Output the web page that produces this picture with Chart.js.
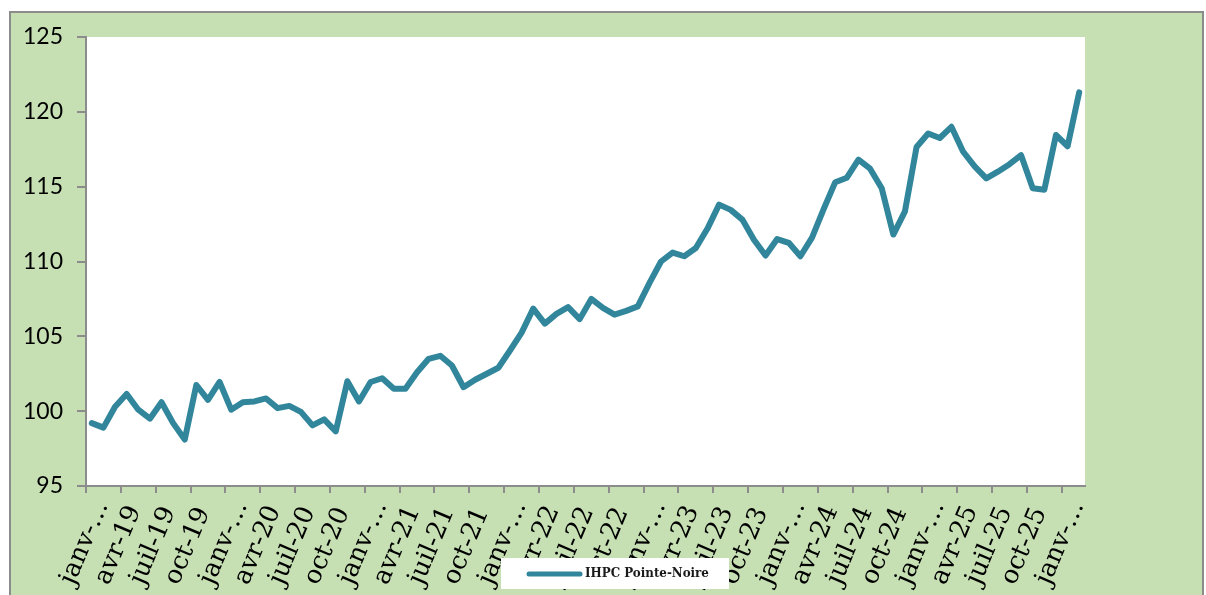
<!DOCTYPE html>
<html>
<head>
<meta charset="utf-8">
<script src="https://cdn.jsdelivr.net/npm/chart.js@4/dist/chart.umd.min.js"></script>
<style>
  html, body { margin: 0; padding: 0; background: #ffffff; overflow: hidden; }
  #frame { position: absolute; left: 9px; top: 11px; width: 1195px; height: 600px;
           background: #c6e0b4; border: 2px solid #8c8c8c; box-sizing: border-box; }
  #wrap { position: absolute; left: 0; top: 0; width: 1206px; height: 595px; }
</style>
</head>
<body>
<div id="frame"></div>
<div id="wrap"><canvas id="c" width="1206" height="595"></canvas></div>
<script>
// ---- data ----
const monthNames = ["janv","févr","mars","avr","mai","juin","juil","août","sept","oct","nov","déc"];
const years = ["19","20","21","22","23","24","25","26"];
const categories = [];
years.forEach(y => monthNames.forEach(m => categories.push(m + "-" + y)));
categories.length = 86; // janv-19 .. févr-26

const ihpcPointeNoire = [
  99.2, 98.9, 100.3, 101.15, 100.1, 99.5, 100.6, 99.2, 98.1, 101.75, 100.75, 101.95,
  100.1, 100.6, 100.65, 100.85, 100.2, 100.35, 99.95, 99.05, 99.45, 98.65, 102.0, 100.65,
  101.95, 102.2, 101.5, 101.5, 102.6, 103.5, 103.7, 103.05, 101.6, 102.1, 102.5, 102.9,
  104.05, 105.25, 106.85, 105.85, 106.5, 106.95, 106.15, 107.5, 106.9, 106.45, 106.7, 107.0,
  108.55, 110.0, 110.6, 110.35, 110.9, 112.2, 113.8, 113.45, 112.8, 111.45, 110.4, 111.5,
  111.25, 110.35, 111.6, 113.5, 115.3, 115.6, 116.8, 116.2, 114.9, 111.8, 113.35, 117.65,
  118.55, 118.25, 119.0, 117.35, 116.35, 115.55, 116.0, 116.5, 117.1, 114.9, 114.8, 118.45,
  117.7, 121.3
];

const tickLabels = [
  "janv-…","avr-19","juil-19","oct-19",
  "janv-…","avr-20","juil-20","oct-20",
  "janv-…","avr-21","juil-21","oct-21",
  "janv-…","avr-22","juil-22","oct-22",
  "janv-…","avr-23","juil-23","oct-23",
  "janv-…","avr-24","juil-24","oct-24",
  "janv-…","avr-25","juil-25","oct-25",
  "janv-…"
];
const yMin = 95, yMax = 125, yStep = 5;
const seriesLabel = "IHPC Pointe-Noire";
const lineColor = "rgb(49,134,155)";
const axisColor = "#8c8c8c";

// ---- plugins ----
const plotBg = {
  id: 'plotBg',
  beforeDraw(chart) {
    const a = chart.chartArea, ctx = chart.ctx;
    ctx.save();
    ctx.fillStyle = '#ffffff';
    ctx.fillRect(a.left, a.top, a.right - a.left, a.bottom - a.top);
    ctx.restore();
  }
};
// anchor the rotated x labels at their start (as in the original), instead of their end
const labelStartAlign = {
  id: 'labelStartAlign',
  beforeDraw(chart) {
    const scale = chart.scales.x;
    if (!scale || typeof scale.getLabelItems !== 'function') return;
    const items = scale.getLabelItems(chart.chartArea);
    items.forEach(item => {
      const o = item.options;
      if (!o || !o.translation) return;
      o.textAlign = 'left';
      o.textBaseline = 'alphabetic';
      item.textOffset = 0;
      o.translation = [o.translation[0] - 4, 586];
    });
  }
};
const customLegend = {
  id: 'customLegend',
  afterDraw(chart) {
    const ctx = chart.ctx;
    const ds = chart.data.datasets[0];
    ctx.save();
    ctx.fillStyle = '#ffffff';
    ctx.fillRect(501, 558, 228, 31);
    ctx.strokeStyle = ds.borderColor;
    ctx.lineWidth = 5;
    ctx.lineCap = 'round';
    ctx.beginPath();
    ctx.moveTo(529, 574);
    ctx.lineTo(580, 574);
    ctx.stroke();
    ctx.fillStyle = '#1a1a1a';
    ctx.font = 'bold 13.2px "DejaVu Serif Condensed", "DejaVu Serif", serif';
    ctx.textBaseline = 'middle';
    ctx.fillText(ds.label, 585, 574);
    ctx.restore();
  }
};

new Chart(document.getElementById('c'), {
  type: 'line',
  data: {
    labels: categories,
    datasets: [{
      label: seriesLabel,
      data: ihpcPointeNoire,
      borderColor: lineColor,
      backgroundColor: lineColor,
      borderWidth: 6,
      borderCapStyle: 'round',
      borderJoinStyle: 'round',
      pointRadius: 0,
      tension: 0,
      fill: false
    }]
  },
  options: {
    responsive: false,
    animation: false,
    layout: { padding: { left: 0, top: 37, right: 121, bottom: 0 } },
    plugins: { legend: { display: false }, tooltip: { enabled: false } },
    scales: {
      x: {
        type: 'category',
        offset: true,
        afterFit(scale) { scale.height = 109; },
        grid: {
          offset: true,
          drawOnChartArea: false,
          drawTicks: true,
          tickLength: 7,
          lineWidth: 2,
          color: ctx => (ctx.index % 3 === 0 ? axisColor : 'rgba(0,0,0,0)')
        },
        border: { display: true, color: axisColor, width: 2 },
        ticks: {
          autoSkip: false,
          maxRotation: 67,
          minRotation: 67,
          padding: 0,
          labelOffset: 0,
          color: '#000000',
          font: { family: '"DejaVu Serif", serif', size: 25.5 },
          callback: (v, i) => (i % 3 === 0 ? tickLabels[i / 3] : '')
        }
      },
      y: {
        min: yMin, max: yMax,
        afterFit(scale) { scale.width = 86; },
        grid: {
          drawOnChartArea: false,
          drawTicks: true,
          tickLength: 9,
          lineWidth: 2,
          color: axisColor
        },
        border: { display: true, color: axisColor, width: 2 },
        ticks: {
          stepSize: yStep,
          padding: 14,
          color: '#000000',
          font: { family: 'Lato, sans-serif', size: 23 }
        }
      }
    }
  },
  plugins: [plotBg, labelStartAlign, customLegend]
});
</script>
</body>
</html>
